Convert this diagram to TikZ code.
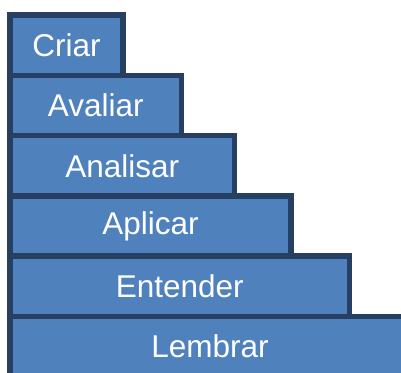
\documentclass[tikz,border=0pt]{standalone}
\usepackage{fontspec}
\setmainfont{Liberation Sans}
\definecolor{barfill}{HTML}{4F81BD}
\definecolor{barline}{HTML}{263F63}
\begin{document}
\begin{tikzpicture}[x=1pt,y=-1pt,
  bar/.style={draw=barline, fill=barfill, line width=5.5pt, minimum height=60.3pt,
    anchor=north west, outer sep=0pt, inner sep=0pt, text=white,
    font=\fontsize{31.5}{31.5}\selectfont}]
\useasboundingbox (0,0) rectangle (401,372);
\clip (0,0) rectangle (401,372);
\node[bar, minimum width=113pt] (criar) at (10,15) {Criar};
\node[bar, minimum width=171.5pt] (avaliar) at (10,75.3) {Avaliar};
\node[bar, minimum width=224.5pt] (analisar) at (10,135.6) {Analisar};
\node[bar, minimum width=281pt] (aplicar) at (10,195.9) {Aplicar};
\node[bar, minimum width=339.5pt] (entender) at (10,256.2) {Entender};
\node[bar, minimum width=400pt] (lembrar) at (10,316.5) {Lembrar};
\end{tikzpicture}
\end{document}
